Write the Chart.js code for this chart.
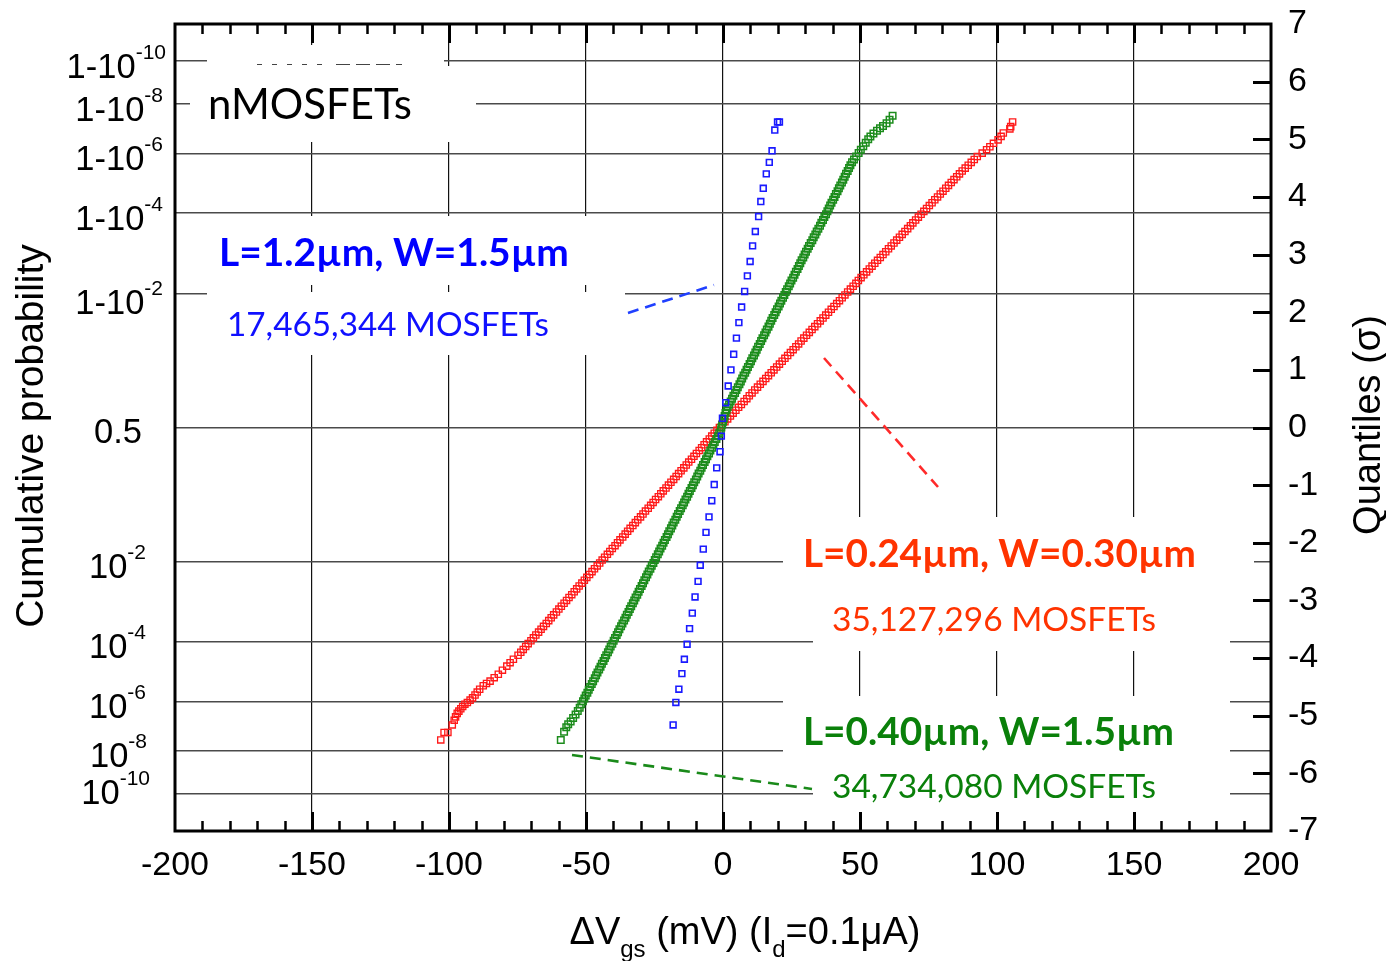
<!DOCTYPE html>
<html>
<head>
<meta charset="utf-8">
<script src="https://cdn.jsdelivr.net/npm/chart.js@4.4.1/dist/chart.umd.min.js"></script>
<style>
  html, body { margin: 0; padding: 0; background: #fff; }
  #wrap { width: 1386px; height: 961px; }
</style>
</head>
<body>
<div id="wrap"><canvas id="c" width="1386" height="961"></canvas></div>
<script>
// ---- data: [dVgs in mV, quantile in sigma] ----
const bluePts = [
  [-18.2,-5.16],[-17.2,-4.77],[-16.1,-4.54],[-15.0,-4.27],[-14.1,-4.02],[-13.1,-3.76],[-12.2,-3.49],[-11.2,-3.22],
  [-10.2,-2.94],[-9.1,-2.67],[-8.3,-2.39],[-7.2,-2.11],[-6.2,-1.82],[-5.1,-1.55],[-4.1,-1.27],[-3.2,-0.99],
  [-2.3,-0.70],[-1.1,-0.42],[-0.6,-0.15],[-0.2,0.16],[1.0,0.43],[1.9,0.72],[2.9,1.00],[3.9,1.27],[4.9,1.55],
  [5.8,1.82],[6.8,2.09],[7.9,2.36],[8.9,2.63],[9.9,2.88],[10.8,3.15],[11.8,3.40],[13.0,3.66],[13.8,3.92],
  [14.7,4.15],[15.8,4.40],[16.9,4.60],[17.9,4.80],[18.9,5.16],[19.9,5.30],[20.6,5.30]
];
const greenPts = [
  [-59.2,-5.42],[-58.0,-5.28],[-57.2,-5.20],[-56.5,-5.15],[-55.6,-5.10],[-54.7,-5.04],[-53.8,-4.98],[-53.0,-4.92],
  [-52.3,-4.86],[-51.7,-4.80],[-51.1,-4.75],[-50.6,-4.70],[-50.1,-4.65],[-49.5,-4.60],[-49.0,-4.55],[-48.5,-4.50],
  [-47.9,-4.45],[-47.4,-4.40],[-46.8,-4.35],[-46.3,-4.30],[-45.8,-4.25],[-45.2,-4.20],[-44.7,-4.15],[-44.2,-4.10],
  [-43.6,-4.05],[-43.1,-4.00],[-42.6,-3.95],[-42.0,-3.90],[-41.5,-3.85],[-41.0,-3.80],[-40.4,-3.75],[-39.9,-3.70],
  [-39.4,-3.65],[-38.8,-3.60],[-38.3,-3.55],[-37.8,-3.50],[-37.2,-3.45],
  [-36.7,-3.40],[-36.1,-3.35],[-35.6,-3.30],[-35.1,-3.25],[-34.5,-3.20],[-34.0,-3.15],[-33.5,-3.10],[-32.9,-3.05],[-32.4,-3.00],
  [-31.9,-2.95],[-31.3,-2.90],[-30.8,-2.85],[-30.3,-2.80],[-29.7,-2.75],[-29.2,-2.70],[-28.7,-2.65],[-28.1,-2.60],[-27.6,-2.55],[-27.1,-2.50],
  [-26.5,-2.45],[-26.0,-2.40],[-25.4,-2.35],[-24.9,-2.30],[-24.4,-2.25],[-23.8,-2.20],[-23.3,-2.15],[-22.8,-2.10],[-22.2,-2.05],[-21.7,-2.00],
  [-21.2,-1.95],[-20.6,-1.90],[-20.1,-1.85],[-19.6,-1.80],[-19.0,-1.75],[-18.5,-1.70],[-18.0,-1.65],[-17.4,-1.60],[-16.9,-1.55],[-16.4,-1.50],
  [-15.8,-1.45],[-15.3,-1.40],[-14.7,-1.35],[-14.2,-1.30],[-13.7,-1.25],[-13.1,-1.20],[-12.6,-1.15],[-12.1,-1.10],[-11.5,-1.05],[-11.0,-1.00],
  [-10.5,-0.95],[-9.9,-0.90],[-9.4,-0.85],[-8.9,-0.80],[-8.3,-0.75],[-7.8,-0.70],[-7.3,-0.65],[-6.7,-0.60],[-6.2,-0.55],[-5.7,-0.50],
  [-5.1,-0.45],[-4.6,-0.40],[-4.0,-0.35],[-3.5,-0.30],[-3.0,-0.25],[-2.4,-0.20],[-1.9,-0.15],[-1.4,-0.10],[-0.8,-0.05],[-0.6,0.00],
  [-0.3,0.05],[0.0,0.10],[0.3,0.15],[0.6,0.20],[0.9,0.25],[1.3,0.30],[1.7,0.35],[2.2,0.40],[2.8,0.45],[3.3,0.50],
  [3.8,0.55],[4.4,0.60],[4.9,0.65],[5.4,0.70],[6.0,0.75],[6.5,0.80],[7.0,0.85],[7.5,0.90],[8.1,0.95],[8.6,1.00],
  [9.1,1.05],[9.7,1.10],[10.2,1.15],[10.7,1.20],[11.3,1.25],[11.8,1.30],[12.3,1.35],[12.8,1.40],[13.4,1.45],[13.9,1.50],
  [14.4,1.55],[15.0,1.60],[15.5,1.65],[16.0,1.70],[16.6,1.75],[17.1,1.80],[17.6,1.85],[18.1,1.90],[18.7,1.95],[19.2,2.00],
  [19.7,2.05],[20.3,2.10],[20.8,2.15],[21.3,2.20],[21.9,2.25],[22.4,2.30],[22.9,2.35],[23.4,2.40],[24.0,2.45],[24.5,2.50],
  [25.0,2.55],[25.6,2.60],[26.1,2.65],[26.6,2.70],[27.2,2.75],[27.7,2.80],[28.2,2.85],[28.7,2.90],[29.3,2.95],[29.8,3.00],
  [30.3,3.05],[30.9,3.10],[31.4,3.15],[32.0,3.20],[32.6,3.25],[33.1,3.30],[33.7,3.35],[34.2,3.40],[34.8,3.45],[35.4,3.50],
  [35.9,3.55],[36.5,3.60],[37.0,3.65],[37.6,3.70],[38.1,3.75],[38.6,3.80],[39.1,3.85],[39.6,3.90],[40.2,3.95],[40.7,4.00],
  [41.2,4.05],[41.8,4.10],[42.3,4.15],[42.8,4.20],[43.4,4.25],[43.9,4.30],[44.4,4.35],[44.9,4.40],[45.5,4.45],[46.0,4.50],
  [46.5,4.55],[47.1,4.60],[47.8,4.65],[48.6,4.70],[49.5,4.76],[50.3,4.82],[51.2,4.88],[52.1,4.94],[53.0,5.00],[53.8,5.05],
  [54.9,5.10],[56.2,5.15],[57.3,5.19],[58.4,5.23],[59.7,5.28],[60.8,5.34],[61.9,5.41]
];
const redPts = [
  [-103.0,-5.42],[-101.8,-5.29],[-100.4,-5.29],[-98.8,-5.16],[-98.1,-5.08],[-97.6,-5.02],[-97.0,-4.96],[-96.4,-4.92],
  [-95.7,-4.88],[-95.0,-4.84],[-94.2,-4.80],[-93.3,-4.77],[-92.3,-4.73],[-91.4,-4.69],[-90.5,-4.64],[-89.7,-4.59],
  [-88.8,-4.54],[-87.5,-4.48],[-86.3,-4.44],[-85.0,-4.40],[-83.5,-4.34],[-82.0,-4.28],[-80.5,-4.21],[-78.9,-4.14],
  [-77.7,-4.08],[-76.5,-4.02],
  [-74.8,-3.95],[-73.8,-3.90],[-72.9,-3.85],[-72.0,-3.80],[-71.1,-3.75],[-70.1,-3.70],[-69.2,-3.65],[-68.3,-3.60],[-67.3,-3.55],[-66.4,-3.50],
  [-65.5,-3.45],[-64.5,-3.40],[-63.6,-3.35],[-62.7,-3.30],[-61.8,-3.25],[-60.8,-3.20],[-59.9,-3.15],[-59.0,-3.10],[-58.0,-3.05],[-57.1,-3.00],
  [-56.2,-2.95],[-55.2,-2.90],[-54.3,-2.85],[-53.4,-2.80],[-52.5,-2.75],[-51.5,-2.70],[-50.6,-2.65],[-49.7,-2.60],[-48.7,-2.55],[-47.8,-2.50],
  [-46.9,-2.45],[-45.9,-2.40],[-45.0,-2.35],[-44.1,-2.30],[-43.2,-2.25],[-42.2,-2.20],[-41.3,-2.15],[-40.4,-2.10],[-39.4,-2.05],[-38.5,-2.00],
  [-37.6,-1.95],[-36.6,-1.90],[-35.7,-1.85],[-34.8,-1.80],[-33.9,-1.75],[-32.9,-1.70],[-32.0,-1.65],[-31.1,-1.60],[-30.1,-1.55],[-29.2,-1.50],
  [-28.3,-1.45],[-27.3,-1.40],[-26.4,-1.35],[-25.5,-1.30],[-24.6,-1.25],[-23.6,-1.20],[-22.7,-1.15],[-21.8,-1.10],[-20.8,-1.05],[-19.9,-1.00],
  [-19.0,-0.95],[-18.0,-0.90],[-17.1,-0.85],[-16.2,-0.80],[-15.3,-0.75],[-14.3,-0.70],[-13.4,-0.65],[-12.5,-0.60],[-11.5,-0.55],[-10.6,-0.50],
  [-9.7,-0.45],[-8.7,-0.40],[-7.8,-0.35],[-6.9,-0.30],[-6.0,-0.25],[-5.0,-0.20],[-4.1,-0.15],[-3.2,-0.10],[-2.2,-0.05],[-1.3,0.00],
  [-0.3,0.05],[0.7,0.10],[1.7,0.15],[2.7,0.20],[3.7,0.25],[4.7,0.30],[5.7,0.35],[6.7,0.40],[7.7,0.45],[8.7,0.50],
  [9.6,0.55],[10.6,0.60],[11.6,0.65],[12.6,0.70],[13.6,0.75],[14.6,0.80],[15.6,0.85],[16.6,0.90],[17.6,0.95],[18.6,1.00],
  [19.6,1.05],[20.6,1.10],[21.6,1.15],[22.6,1.20],[23.6,1.25],[24.6,1.30],[25.6,1.35],[26.6,1.40],[27.6,1.45],[28.5,1.50],
  [29.5,1.55],[30.5,1.60],[31.5,1.65],[32.5,1.70],[33.5,1.75],[34.5,1.80],[35.5,1.85],[36.5,1.90],[37.5,1.95],[38.5,2.00],
  [39.5,2.05],[40.5,2.10],[41.5,2.15],[42.5,2.20],[43.5,2.25],[44.5,2.30],[45.5,2.35],[46.5,2.40],[47.5,2.45],[48.5,2.50],
  [49.4,2.55],[50.4,2.60],[51.4,2.65],[52.4,2.70],[53.4,2.75],[54.4,2.80],[55.4,2.85],[56.4,2.90],[57.4,2.95],[58.4,3.00],
  [59.4,3.05],[60.4,3.10],[61.4,3.15],[62.4,3.20],[63.4,3.25],[64.4,3.30],[65.4,3.35],[66.4,3.40],[67.4,3.45],[68.4,3.50],
  [69.3,3.55],[70.3,3.60],[71.3,3.65],[72.3,3.70],[73.3,3.75],[74.3,3.80],[75.3,3.85],[76.3,3.90],[77.3,3.95],[78.3,4.00],
  [79.3,4.05],[80.3,4.10],[81.3,4.15],[82.3,4.20],[83.3,4.25],[84.3,4.30],[85.3,4.35],[86.3,4.40],[87.3,4.45],[88.4,4.50],
  [89.5,4.55],[90.6,4.60],[91.7,4.65],[92.8,4.70],[94.6,4.76],[96.2,4.82],[97.4,4.87],[98.7,4.93],[100.4,4.99],
  [101.5,5.05],[102.3,5.11],[104.7,5.18],[105.0,5.22],[105.7,5.30]
];

// left axis: cumulative probability ticks, placed at their normal quantiles
const probQ = [6.3613, 5.6120, 4.7534, 3.7190, 2.3263, 0, -2.3263, -3.7190, -4.7534, -5.6120, -6.3613];
const probBase = ['1-10','1-10','1-10','1-10','1-10','0.5','10','10','10','10','10'];
const probExp = ['-10','-8','-6','-4','-2','','-2','-4','-6','-8','-10'];

const seriesTitles = ['L=1.2µm, W=1.5µm', 'L=0.24µm, W=0.30µm', 'L=0.40µm, W=1.5µm'];
const seriesCounts = ['17,465,344 MOSFETs', '35,127,296 MOSFETs', '34,734,080 MOSFETs'];

// ---- layout / style ----
const AX_FONT = '"Liberation Sans", Arial, sans-serif';
const NOTE_FONT = 'Lato, "Open Sans", sans-serif';
const probRight = [166,163,163,163,163,142,146,146,146,147,150];
const probNudge = [1,0,0,0,4,-1,0,0,0,0,-7];

const notes = [
  {t:'nMOSFETs', x:208, y:119, w:204, wt:'normal', c:'#000'},
  {t:seriesTitles[0], x:219, y:266, w:350, wt:'bold', c:'#0000ff'},
  {t:seriesCounts[0], x:227, y:336, w:322, wt:'normal', c:'#1010ff'},
  {t:seriesTitles[1], x:803, y:567, w:393, wt:'bold', c:'#ff3300'},
  {t:seriesCounts[1], x:832, y:631, w:324, wt:'normal', c:'#ff3300'},
  {t:seriesTitles[2], x:803, y:745, w:371, wt:'bold', c:'#0a800a'},
  {t:seriesCounts[2], x:832, y:798, w:324, wt:'normal', c:'#0a800a'}
];
// white boxes behind the labels that hide the grid (x0, y0, x1, y1)
const masks = [
  [207,45,444,66],[190,66,476,142],
  [207,216,625,285],[207,292,625,355],
  [783,517,1254,600],[813,600,1230,651],
  [783,696,1230,770],[813,770,1230,817]
];
const leaders = [
  {a:[628,313], b:[714,285], c:'#2040ff'},
  {a:[824,358], b:[938,487], c:'#ff2a2a'},
  {a:[572,755], b:[812,789], c:'#1a8a1a'}
];

function toXY(pts) { return pts.map(p => ({x: p[0], y: p[1]})); }

function fitText(ctx, n) {
  ctx.font = n.wt + ' 40px ' + NOTE_FONT;
  const w = ctx.measureText(n.t).width;
  ctx.font = n.wt + ' ' + (40 * n.w / w).toFixed(2) + 'px ' + NOTE_FONT;
  ctx.fillStyle = n.c;
  ctx.textAlign = 'left';
  ctx.textBaseline = 'alphabetic';
  ctx.fillText(n.t, n.x, n.y);
}

const decor = {
  id: 'decor',
  beforeDatasetsDraw(chart) {
    const ctx = chart.ctx;
    ctx.save();
    ctx.fillStyle = '#fff';
    masks.forEach(b => ctx.fillRect(b[0], b[1], b[2] - b[0], b[3] - b[1]));
    // faint dash remains under the nMOSFETs box
    ctx.strokeStyle = '#444';
    ctx.lineWidth = 1;
    ctx.setLineDash([5, 10]);
    ctx.beginPath(); ctx.moveTo(257, 64.5); ctx.lineTo(330, 64.5); ctx.stroke();
    ctx.setLineDash([14, 6]);
    ctx.beginPath(); ctx.moveTo(336, 64.5); ctx.lineTo(402, 64.5); ctx.stroke();
    ctx.restore();
  },
  afterDatasetsDraw(chart) {
    const ctx = chart.ctx;
    ctx.save();
    ctx.lineWidth = 2.6;
    ctx.setLineDash([11, 7]);
    leaders.forEach(l => {
      ctx.strokeStyle = l.c;
      ctx.beginPath(); ctx.moveTo(l.a[0], l.a[1]); ctx.lineTo(l.b[0], l.b[1]); ctx.stroke();
    });
    ctx.setLineDash([]);
    notes.forEach(n => fitText(ctx, n));
    ctx.restore();
  },
  afterDraw(chart) {
    const ctx = chart.ctx;
    const a = chart.chartArea;
    const sx = chart.scales.x, sy = chart.scales.y;
    ctx.save();
    // minor / major ticks on top and bottom, pointing inward
    ctx.strokeStyle = '#000';
    for (let v = -190; v <= 190; v += 10) {
      const px = Math.round(sx.getPixelForValue(v)) + 0.5;
      const major = v % 50 === 0;
      const len = major ? 19 : 10;
      ctx.lineWidth = major ? 3 : 2.5;
      ctx.beginPath();
      ctx.moveTo(px, a.top); ctx.lineTo(px, a.top + len);
      ctx.moveTo(px, a.bottom); ctx.lineTo(px, a.bottom - len);
      ctx.stroke();
    }
    // right axis ticks
    ctx.lineWidth = 3;
    for (let q = -6; q <= 6; q++) {
      const py = Math.round(sy.getPixelForValue(q)) + 0.5;
      ctx.beginPath(); ctx.moveTo(a.right, py); ctx.lineTo(a.right - 18, py); ctx.stroke();
    }
    // frame
    ctx.lineWidth = 3;
    ctx.strokeRect(a.left, a.top, a.right - a.left, a.bottom - a.top);

    // left probability labels with superscripts
    ctx.fillStyle = '#000';
    ctx.textBaseline = 'alphabetic';
    ctx.textAlign = 'left';
    const mainF = '34.5px ' + AX_FONT, supF = '21px ' + AX_FONT;
    probQ.forEach((q, i) => {
      const base = sy.getPixelForValue(q) + 16.5 + probNudge[i];
      ctx.font = mainF;
      const wb = ctx.measureText(probBase[i]).width;
      ctx.font = supF;
      const we = probExp[i] ? ctx.measureText(probExp[i]).width : 0;
      const x0 = probRight[i] - we - wb;
      ctx.font = mainF;
      ctx.fillText(probBase[i], x0, base);
      if (probExp[i]) {
        ctx.font = supF;
        ctx.fillText(probExp[i], x0 + wb, base - 19);
      }
    });

    // axis titles
    ctx.font = '39px ' + AX_FONT;
    ctx.textAlign = 'center';
    ctx.save();
    ctx.translate(43, 436); ctx.rotate(-Math.PI / 2);
    ctx.fillText('Cumulative probability', 0, 0);
    ctx.restore();
    ctx.save();
    ctx.translate(1380, 425); ctx.rotate(-Math.PI / 2);
    ctx.font = '38px ' + AX_FONT;
    ctx.fillText('Quantiles (σ)', 0, 0);
    ctx.restore();

    // x title with subscripts
    const parts = [['ΔV', 38, 0], ['gs', 24, 13], [' (mV) (I', 38, 0], ['d', 24, 13], ['=0.1μA)', 38, 0]];
    let total = 0;
    parts.forEach(p => { ctx.font = p[1] + 'px ' + AX_FONT; p.push(ctx.measureText(p[0]).width); total += p[3]; });
    let cx = 745 - total / 2;
    ctx.textAlign = 'left';
    parts.forEach(p => {
      ctx.font = p[1] + 'px ' + AX_FONT;
      ctx.fillText(p[0], cx, 944 + p[2]);
      cx += p[3];
    });
    ctx.restore();
  }
};

function mk(pts, color, r, bw) {
  return {
    data: toXY(pts),
    pointStyle: 'rect',
    pointRadius: r,
    pointHoverRadius: r,
    borderColor: color,
    pointBorderColor: color,
    backgroundColor: 'rgba(0,0,0,0)',
    pointBackgroundColor: 'rgba(0,0,0,0)',
    pointBorderWidth: bw,
    showLine: false
  };
}

function noPad(s) { s.paddingTop = 0; s.paddingBottom = 0; s.paddingLeft = 0; s.paddingRight = 0; }

new Chart(document.getElementById('c'), {
  type: 'scatter',
  data: {
    datasets: [
      mk(bluePts, '#1a1aff', 4.1, 1.6),
      mk(greenPts, '#1c8c1c', 4.6, 1.5),
      mk(redPts, '#ff1a1a', 4.4, 1.35)
    ]
  },
  options: {
    responsive: false,
    animation: false,
    layout: { padding: { top: 24, left: 0, right: 0, bottom: 0 } },
    plugins: { legend: { display: false }, tooltip: { enabled: false } },
    scales: {
      x: {
        type: 'linear', position: 'bottom', min: -200, max: 200,
        afterFit: s => { s.height = 130; noPad(s); },
        ticks: { stepSize: 50, autoSkip: false, maxRotation: 0, padding: 14, color: '#000',
                 font: { family: AX_FONT, size: 34 }, callback: v => String(v) },
        grid: { drawTicks: false, lineWidth: 1.2,
                color: c => (c.tick && Math.abs(c.tick.value) === 200) ? 'rgba(0,0,0,0)' : '#111' },
        border: { display: false }
      },
      yl: {
        type: 'linear', position: 'left', min: -7, max: 7,
        afterFit: s => { s.width = 175; noPad(s); },
        afterBuildTicks: s => { s.ticks = probQ.map(v => ({ value: v })); },
        ticks: { display: false },
        grid: { drawTicks: false, color: '#4a4a4a', lineWidth: 1.4 },
        border: { display: false }
      },
      y: {
        type: 'linear', position: 'right', min: -7, max: 7,
        afterFit: s => { s.width = 115; noPad(s); },
        ticks: { stepSize: 1, autoSkip: false, padding: 17, color: '#000',
                 font: { family: AX_FONT, size: 34 }, callback: v => String(v) },
        grid: { display: false, drawTicks: false },
        border: { display: false }
      }
    }
  },
  plugins: [decor]
});
</script>
</body>
</html>
